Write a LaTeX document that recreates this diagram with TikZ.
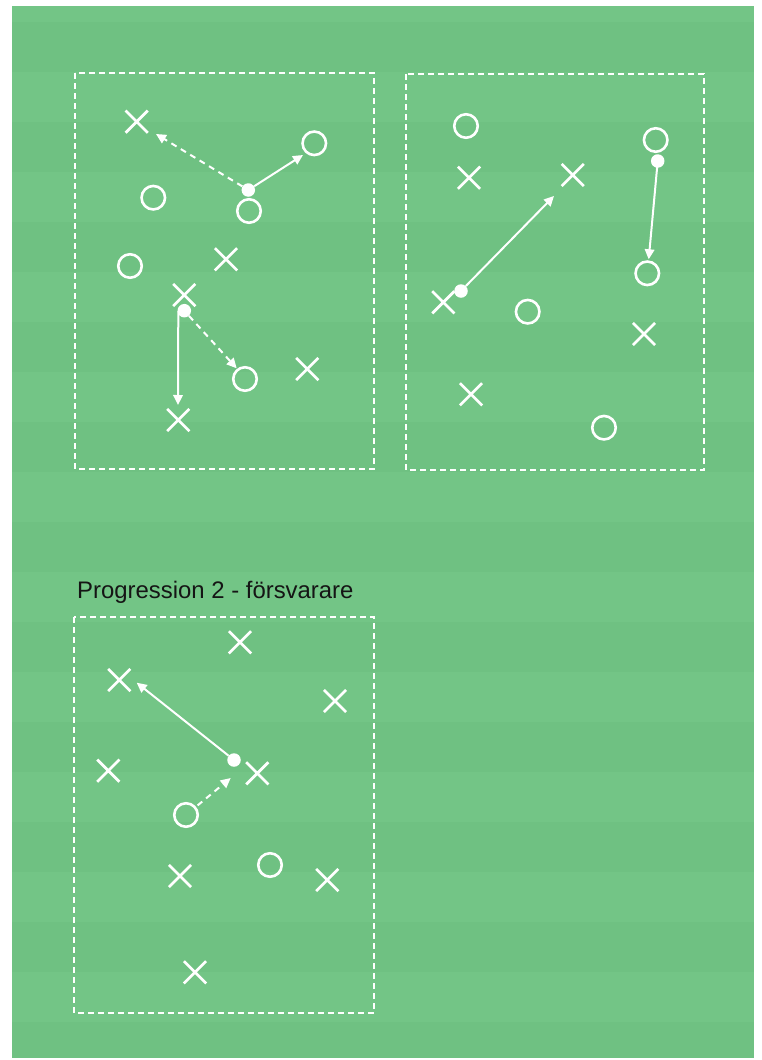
\documentclass[tikz,border=0pt]{standalone}
\usepackage{fontspec}
\setmainfont{Liberation Sans}
\usetikzlibrary{arrows.meta,shapes.misc}
\definecolor{fieldlight}{HTML}{73C586}
\definecolor{fielddark}{HTML}{6FC182}
\definecolor{labeltext}{HTML}{151515}
\begin{document}
\begin{tikzpicture}[x=1pt,y=-1pt,
  xmark/.style={draw=white, line width=2.7pt, cross out, minimum size=19.5pt, inner sep=0pt},
  omark/.style={draw=white, line width=2.6pt, circle, minimum size=23.5pt, inner sep=0pt},
  ball/.style={fill=white, circle, minimum size=13.5pt, inner sep=0pt},
  zone/.style={draw=white, line width=1.5pt, dash pattern=on 6pt off 4pt},
  pass/.style={draw=white, line width=2pt, -{Triangle[length=10pt,width=9.5pt]}},
  run/.style={pass, dash pattern=on 6pt off 5pt},
]
\useasboundingbox (0,0) rectangle (762,1060);
\fill[white] (0,0) rectangle (762,1060);
\fill[fieldlight] (12,6) rectangle (754,1058);
\foreach \k in {0,...,9}{
  \fill[fielddark] (12,22+100*\k) rectangle (754,72+100*\k);
}
\fill[fielddark] (12,1022) rectangle (754,1058);

% zones
\draw[zone] (75,73) rectangle (374,469);
\draw[zone] (406,74) rectangle (704,470);
\draw[zone] (74,617) rectangle (374,1013);

\node[anchor=base west, text=labeltext, font=\fontsize{23.9}{28}\selectfont, inner sep=0pt] (title) at (77,598.3) {Progression 2 - försvarare};

% ---- zone 1
\node[xmark] (a1) at (136.7,121.7) {};
\node[omark] (a2) at (314.3,143.3) {};
\node[omark] (a3) at (153.3,197.7) {};
\node[omark] (a4) at (249,211) {};
\node[ball]  (a5) at (248.3,190) {};
\node[omark] (a6) at (130,266) {};
\node[xmark] (a7) at (226,259.3) {};
\node[xmark] (a8) at (184.3,295) {};
\node[ball]  (a9) at (184.3,310.7) {};
\node[xmark] (a10) at (178.3,420) {};
\node[omark] (a11) at (245,379) {};
\node[xmark] (a12) at (307.3,369) {};
\coordinate (t1) at (156,134);
\coordinate (t2) at (303,155);
\coordinate (s3) at (178.3,311);
\coordinate (t3) at (178,405);
\coordinate (t4) at (236.7,368.3);
\draw[run] (a5) -- (t1);
\draw[pass] (a5) -- (t2);
\draw[pass] (s3) -- (t3);
\draw[run] (a9) -- (t4);

% ---- zone 2
\node[omark] (b1) at (466,126) {};
\node[xmark] (b2) at (469,177.7) {};
\node[xmark] (b3) at (572.7,175) {};
\node[omark] (b4) at (655.7,140) {};
\node[ball]  (b5) at (657.7,161) {};
\node[omark] (b6) at (647.3,273.3) {};
\node[xmark] (b7) at (443.3,302.3) {};
\node[ball]  (b8) at (461,291) {};
\node[omark] (b9) at (527.7,311.7) {};
\node[xmark] (b10) at (644,334) {};
\node[xmark] (b11) at (471,394.3) {};
\node[omark] (b12) at (604,427.7) {};
\coordinate (u1) at (648.7,259.3);
\coordinate (u2) at (554,196);
\draw[pass] (b5.center) -- (u1);
\draw[pass] (b8) -- (u2);

% ---- zone 3
\node[xmark] (c1) at (240,642.3) {};
\node[xmark] (c2) at (119.3,680) {};
\node[xmark] (c3) at (335,701) {};
\node[xmark] (c4) at (108.3,770.7) {};
\node[ball]  (c5) at (234,760) {};
\node[xmark] (c6) at (257.3,773.3) {};
\node[omark] (c7) at (186,815) {};
\node[omark] (c8) at (270,865) {};
\node[xmark] (c9) at (180,876) {};
\node[xmark] (c10) at (327.3,880) {};
\node[xmark] (c11) at (195,972.3) {};
\coordinate (v1) at (136.7,682.7);
\coordinate (v2) at (230.7,778) ;
\draw[pass] (c5) -- (v1);
\draw[run, shorten <=2pt] (c7) -- (v2);
\end{tikzpicture}
\end{document}
